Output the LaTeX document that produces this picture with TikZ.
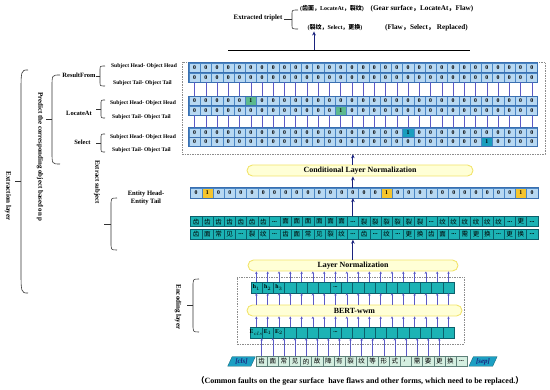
\documentclass[tikz,border=0pt]{standalone}
\usepackage{fontspec}
\setmainfont{Liberation Serif}
\newfontfamily\cjk{Noto Sans CJK SC}
\usetikzlibrary{arrows.meta,shapes.geometric}

\definecolor{cellblue}{HTML}{B7D8F2}
\definecolor{cellline}{HTML}{4A86C4}
\definecolor{rowblue}{HTML}{3A6FB0}
\definecolor{onegreen}{HTML}{5DB98E}
\definecolor{oneteal}{HTML}{1A9EBE}
\definecolor{oneyellow}{HTML}{F6C52E}
\definecolor{tealfill}{HTML}{1CB3B5}
\definecolor{tealline}{HTML}{0C5F6B}
\definecolor{tokfill}{HTML}{D5EFE1}
\definecolor{tokline}{HTML}{5E7F78}
\definecolor{clsfill}{HTML}{1C9FC3}
\definecolor{navy}{HTML}{1A237E}
\definecolor{arrpurple}{HTML}{5A5AC6}
\definecolor{pillfill}{HTML}{FFFFD6}
\definecolor{pillline}{HTML}{F2E46C}
\definecolor{dashgray}{HTML}{8C8C8C}

\newcommand{\zh}[1]{{\cjk #1}}
\newcommand{\elip}{{\rmfamily\bfseries ...}}
% spine x, top y, bottom y, tick x, end x, curl height
\newcommand{\sidebrace}[6]{%
  \draw[bracepen] (#5,#2) .. controls (#1,#2) .. (#1,{#2+#6}) -- (#1,{#3-#6}) .. controls (#1,#3) .. (#5,#3);
  \draw[bracepen] (#1,{(#2+#3)/2}) -- (#4,{(#2+#3)/2});}

\begin{document}
\begin{tikzpicture}[x=1pt, y=-1pt, >=latex,
    lbl/.style={font=\bfseries\fontsize{6.5}{7}\selectfont, inner sep=0pt},
    sublbl/.style={font=\bfseries\fontsize{5.6}{6}\selectfont, inner sep=0pt},
    vlbl/.style={font=\bfseries\fontsize{7}{8}\selectfont, inner sep=0pt, rotate=-90},
    gcell/.style={draw=cellline, fill=cellblue, line width=0.35pt, minimum width=11.24pt, minimum height=9pt, inner sep=0pt, font=\bfseries\fontsize{5.8}{6}\selectfont},
    ecell/.style={gcell, minimum width=11.2pt, minimum height=10pt},
    zcell/.style={draw=tealline, fill=tealfill, line width=0.4pt, minimum width=11.2pt, minimum height=10pt, inner sep=0pt, font=\cjk\fontsize{6.5}{7}\selectfont},
    encell/.style={zcell, minimum width=11.3pt, minimum height=11pt, font=\bfseries\fontsize{5.8}{6}\selectfont},
    tokcell/.style={zcell, draw=tokline, fill=tokfill, minimum width=11.1pt},
    clsbox/.style={trapezium, trapezium left angle=65, trapezium right angle=115, fill=clsfill, draw=tealline, line width=0.3pt, minimum width=19pt, minimum height=9.5pt, inner sep=0.5pt, text=navy, font=\bfseries\itshape\fontsize{7}{8}\selectfont},
    rowline/.style={draw=rowblue, line width=0.7pt},
    dashbox/.style={draw=dashgray, dash pattern=on 1.5pt off 1pt, line width=0.6pt, inner sep=0pt},
    pill/.style={draw=pillline, fill=pillfill, line width=0.9pt, rounded corners=5.5pt, minimum height=11pt, inner sep=0pt, font=\bfseries\fontsize{7.9}{9}\selectfont},
    bracepen/.style={draw=black!80, line width=0.6pt},
    vlink/.style={draw=arrpurple, line width=0.6pt},
    smallarr/.style={->, draw=arrpurple, line width=0.5pt, >={Stealth[length=2.4pt,width=2.4pt]}},
    mainarr/.style={->, draw=navy, line width=1pt, >={Stealth[length=4pt,width=3.6pt]}},
    tri/.style={font=\bfseries\fontsize{7.2}{8}\selectfont, inner sep=0pt},
    tricn/.style={tri, font=\bfseries\fontsize{6}{8}\selectfont}]
  \useasboundingbox (0,0) rectangle (550,390);

  % extracted triplets
  \node[lbl, font=\bfseries\fontsize{6.8}{7}\selectfont] (trlab) at (258,18) {Extracted triplet};
  \sidebrace{292}{10}{29}{284}{298}{4}
  \node[tricn] (t1cn) at (332,9) {(\zh{齿面，}LocateAt\zh{，裂纹})};
  \node[tri] (t1en) at (422,9) {(Gear surface\zh{，}LocateAt\zh{，}Flaw)};
  \node[tricn] (t2cn) at (335,28) {(\zh{裂纹，}Select\zh{，更换})};
  \node[tri] (t2en) at (426.5,28) {(Flaw\zh{，}Select\zh{，} Replaced)};
  \coordinate (barL) at (228,50);
  \coordinate (barR) at (470,50);
  \coordinate (trbase) at (314,50);
  \draw[line width=0.8pt] (barL) -- (barR);
  \draw[mainarr] (trbase) -- (trbase |- t2cn.south);

  % extraction grid
  \node[dashbox, minimum width=363pt, minimum height=92pt] (gridbox) at (363.5,108) {};
  \foreach \r/\y/\k/\c in {rfh/67.5/-1/cellblue, rft/77.5/-1/cellblue, lah/101/5/onegreen, lat/110.5/13/onegreen, slh/132.5/19/oneteal, slt/142/26/oneteal}{
    \foreach \i in {0,...,30}{
      \ifnum\i=\k
        \node[gcell, fill=\c] (\r-\i) at ({194.6+\i*11.24},\y) {1};
      \else
        \node[gcell] (\r-\i) at ({194.6+\i*11.24},\y) {0};
      \fi
    }
    \draw[rowline] (\r-0.north west) rectangle (\r-30.south east);
  }
  \foreach \i in {0,...,30}{
    \draw[vlink] (rft-\i.south) -- (lah-\i.north);
    \draw[vlink] (lat-\i.south) -- (slh-\i.north);
  }

  % relation labels
  \node[lbl] (rf) at (79,75) {ResultFrom};
  \sidebrace{100}{66}{86}{96}{105}{4}
  \node[sublbl] (rfhl) at (144,66) {Subject Head- Object Head};
  \node[sublbl] (rftl) at (142.5,83) {Subject Tail- Object Tail};
  \node[lbl] (la) at (79,113) {LocateAt};
  \sidebrace{101}{100}{118}{96}{105}{4}
  \node[sublbl] (lahl) at (143,103) {Subject Head- Object Head};
  \node[sublbl] (latl) at (141.5,117) {Subject Tail- Object Tail};
  \node[lbl] (se) at (82.5,142) {Select};
  \sidebrace{101}{134}{152}{96}{105}{4}
  \node[sublbl] (sehl) at (143,137) {Subject Head- Object Head};
  \node[sublbl] (setl) at (141.5,150) {Subject Tail- Object Tail};

  % layer labels
  \node[vlbl] (extr) at (8,196) {Extraction layer};
  \sidebrace{21}{70}{293}{15}{28}{25}
  \node[vlbl, font=\bfseries\fontsize{6.9}{8}\selectfont] (pred) at (40,157) {Predict the corresponding object based on p};
  \sidebrace{52}{75}{164}{46}{60}{12}
  \node[vlbl, font=\bfseries\fontsize{6.7}{8}\selectfont] (exsub) at (97,182) {Extract subject};
  \sidebrace{111}{198}{250}{104}{117}{8}
  \node[vlbl] (encl) at (178,307) {Encoding layer};
  \sidebrace{193}{279}{332}{187}{199}{8}

  % conditional layer normalization and subject
  \node[pill, minimum width=226pt] (cln) at (360,170.5) {Conditional Layer Normalization};
  \node[lbl, align=center, font=\bfseries\fontsize{6.6}{8}\selectfont] (enht) at (146,198) {Entity Head-\\Entity Tail};
  \foreach \v [count=\i from 0] in {0,1,0,0,0,0,0,0,0,0,0,0,0,0,0,0,0,1,0,0,0,0,0,0,0,0,0,0,0,1,0}{
    \ifnum\v=1 \def\fc{oneyellow}\else\def\fc{cellblue}\fi
    \node[ecell, fill=\fc] (ent-\i) at ({196.1+\i*11.2},193) {\v};
  }
  \draw[rowline] (ent-0.north west) rectangle (ent-30.south east);
  \foreach \ch [count=\i from 0] in {齿,齿,齿,齿,齿,齿,齿,\elip,面,面,面,面,面,面,\elip,裂,裂,裂,裂,裂,裂,\elip,纹,纹,纹,纹,纹,纹,\elip,更,\elip}{
    \node[zcell] (zha-\i) at ({196.1+\i*11.2},221.7) {\ch};
  }
  \foreach \ch [count=\i from 0] in {齿,面,常,见,\elip,裂,纹,\elip,齿,面,常,见,裂,纹,\elip,齿,\elip,纹,\elip,更,换,齿,面,\elip,需,更,换,\elip,更,换,\elip}{
    \node[zcell] (zhb-\i) at ({196.1+\i*11.2},234.5) {\ch};
  }
  \draw[mainarr] (cln.north -| ent-14.center) -- (ent-14.center |- gridbox.south);
  \draw[mainarr] (ent-14.north) -- (ent-14.north |- cln.south);
  \draw[mainarr] (zha-14.north) -- (ent-14.south);
  \node[pill, minimum width=210pt] (ln) at (353,265.5) {Layer Normalization};
  \draw[mainarr] (ln.north -| zhb-14.center) -- (zhb-14.south);

  % encoding layer
  \node[dashbox, minimum width=227pt, minimum height=67pt] (encbox) at (350.5,310.5) {};
  \node[pill, minimum width=215pt] (bert) at (354.5,310.5) {BERT-wwm};
  \foreach \t [count=\i from 0] in {\textbf{h}$_1$,\textbf{h}$_2$,\textbf{h}$_3$,{},{},{},{},\elip,{},{},{},{},{},{},{},{},{},{}}{
    \node[encell] (h-\i) at ({256.4+\i*11.3},287.5) {\t};
  }
  \foreach \t [count=\i from 0] in {\textbf{E}$_{\scriptscriptstyle cls}$,\textbf{E}$_1$,\textbf{E}$_2$,{},{},{},{},\elip,{},{},{},{},{},{},{},{},{},{}}{
    \node[encell] (e-\i) at ({256.4+\i*11.3},332.5) {\t};
  }
  \foreach \i in {0,...,17}{
    \draw[smallarr] (h-\i.north) -- (h-\i.north |- ln.south);
    \draw[smallarr] (h-\i.south |- bert.north) -- (h-\i.south);
    \draw[smallarr] (e-\i.north) -- (e-\i.north |- bert.south);
  }

  % input tokens
  \node[clsbox] (cls) at (241.5,361.5) {[cls]};
  \foreach \ch [count=\i from 0] in {齿,面,常,见,的,故,障,有,裂,纹,等,形,式,，,需,要,更,换,\elip}{
    \node[tokcell] (tk-\i) at ({261.7+\i*11.1},361.5) {\ch};
  }
  \node[clsbox] (sep) at (483,361.5) {[sep]};
  \foreach \i in {0,...,16}{
    \draw[smallarr] (tk-\i.north) -- (tk-\i.north |- e-0.south);
  }

  \node[lbl, font=\bfseries\fontsize{8}{9}\selectfont] (cap) at (360,381) {\zh{（}Common faults on the gear surface\ \ have flaws and other forms, which need to be replaced.\zh{）}};
\end{tikzpicture}
\end{document}
